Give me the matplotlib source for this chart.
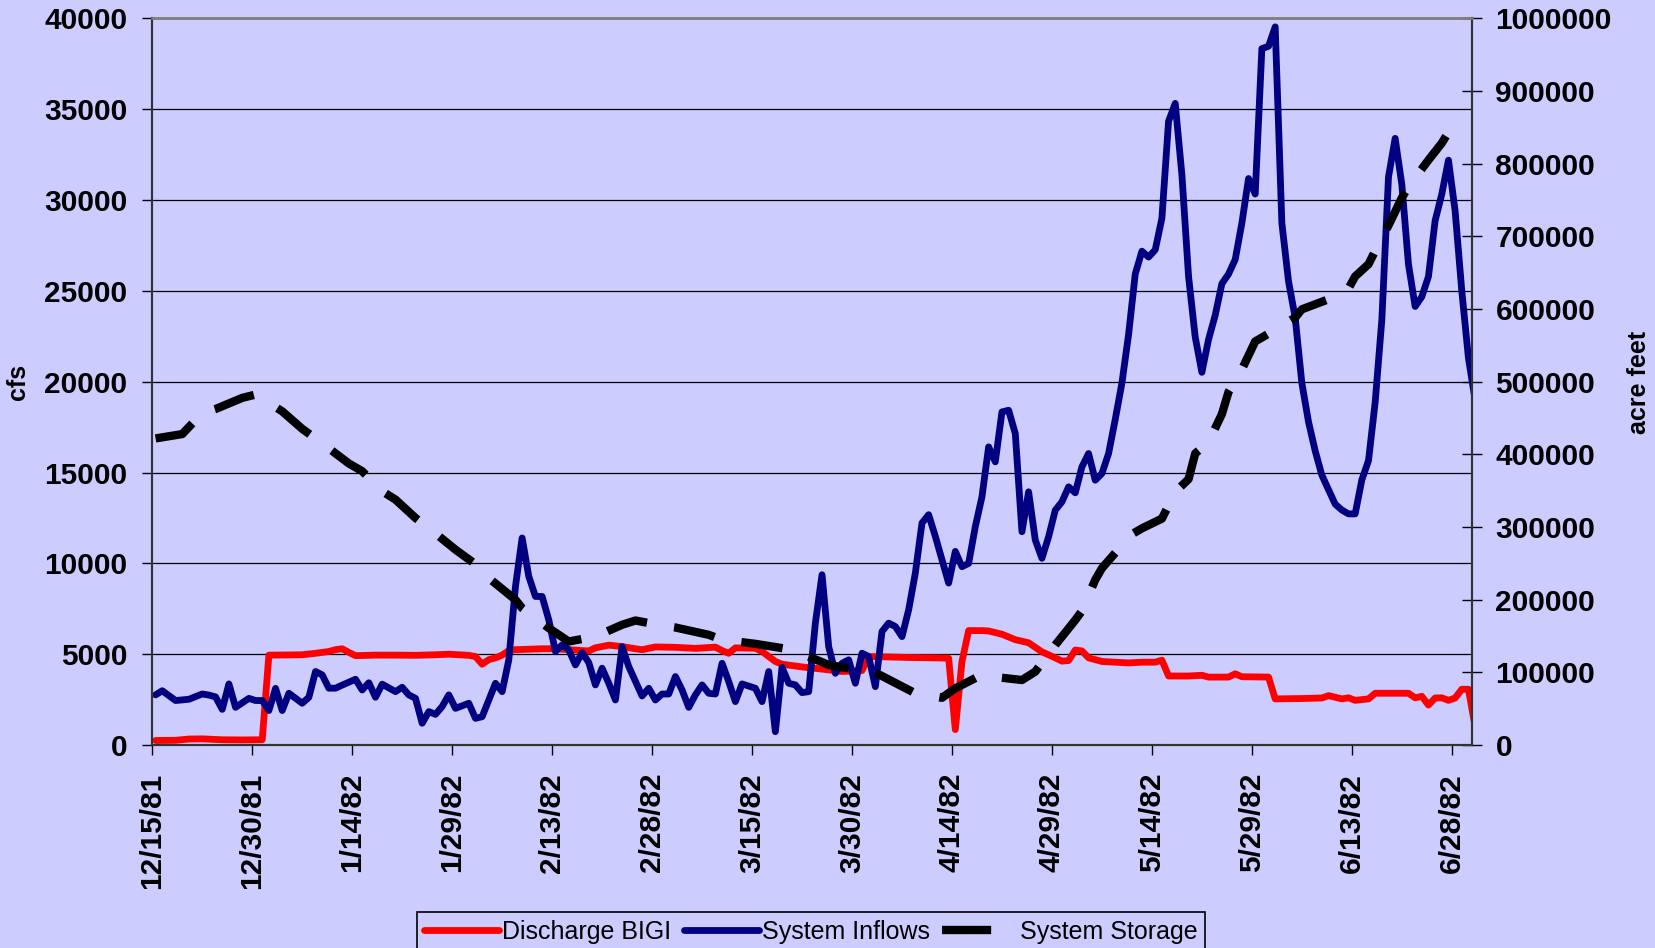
import numpy as np
import matplotlib
matplotlib.use("Agg")
import matplotlib.pyplot as plt
from matplotlib.lines import Line2D

plt.rcParams["font.family"] = ["Liberation Sans", "DejaVu Sans"]

BG = "#CCCCFF"

# day offsets from 12/15/81, daily values
discharge_days = [0, 3, 5, 7, 10, 13, 16, 17, 20, 22, 24, 26, 27, 28, 29, 30, 33, 36, 39, 42,
                  44, 47, 48, 49, 50, 51, 52, 53, 54, 58, 60, 62, 64, 65, 66, 68, 70, 72, 73, 75,
                  78, 81, 84, 85, 86, 87, 90, 91, 93, 94, 97, 100, 103, 106, 107, 110, 113, 117, 119, 120,
                  121, 122, 124, 125, 127, 129, 131, 133, 135, 136, 137, 138, 139, 140, 142, 144, 146, 148, 150, 151,
                  152, 155, 157, 158, 161, 162, 163, 167, 168, 172, 175, 176, 178, 179, 180, 182, 183, 188, 189, 190,
                  191, 192, 193, 194, 195, 196, 197, 198]
discharge_cfs = [250, 260, 330, 340, 290, 280, 290, 4950, 4960, 4970, 5050, 5150, 5250, 5300, 5100, 4920, 4950, 4950, 4940, 4970,
                 5000, 4940, 4870, 4450, 4700, 4800, 4950, 5200, 5250, 5300, 5300, 5250, 5200, 5180, 5350, 5500, 5420, 5300, 5250, 5400,
                 5380, 5320, 5390, 5200, 5050, 5350, 5330, 5150, 4600, 4450, 4300, 4180, 4050, 4100, 4870, 4850, 4820, 4800, 4780, 850,
                 4600, 6300, 6300, 6280, 6100, 5800, 5630, 5130, 4800, 4620, 4650, 5230, 5180, 4800, 4600, 4560, 4520, 4560, 4560, 4670,
                 3800, 3800, 3840, 3740, 3740, 3920, 3760, 3740, 2540, 2560, 2590, 2720, 2540, 2600, 2460, 2540, 2850, 2850, 2600, 2680,
                 2200, 2590, 2600, 2460, 2590, 3070, 3070, 1000]

inflow_days = [0, 1, 3, 5, 7, 8, 9, 10, 11, 12, 14, 15, 16, 17, 18, 19, 20, 22, 23, 24,
               25, 26, 27, 28, 30, 31, 32, 33, 34, 36, 37, 38, 39, 40, 41, 42, 43, 44, 45, 47,
               48, 49, 50, 51, 52, 53, 54, 55, 56, 57, 58, 59, 60, 61, 62, 63, 64, 65, 66, 67,
               68, 69, 70, 71, 73, 74, 75, 76, 77, 78, 79, 80, 81, 82, 83, 84, 85, 86, 87, 88,
               90, 91, 92, 93, 94, 95, 96, 97, 98, 99, 100, 101, 102, 103, 104, 105, 106, 107, 108, 109,
               110, 111, 112, 113, 114, 115, 116, 117, 118, 119, 120, 121, 122, 123, 124, 125, 126, 127, 128, 129,
               130, 131, 132, 133, 134, 135, 136, 137, 138, 139, 140, 141, 142, 143, 144, 145, 146, 147, 148, 149,
               150, 151, 152, 153, 154, 155, 156, 157, 158, 159, 160, 161, 162, 163, 164, 165, 166, 167, 168, 169,
               170, 171, 172, 173, 174, 175, 176, 177, 178, 179, 180, 181, 182, 183, 184, 185, 186, 187, 188, 189,
               190, 191, 192, 193, 194, 195, 196, 197, 198]
inflow_cfs = [2760, 2990, 2450, 2520, 2810, 2750, 2650, 1965, 3365, 2075, 2570, 2450, 2450, 1900, 3120, 1900, 2850, 2300, 2630, 4050,
              3860, 3130, 3130, 3300, 3620, 3030, 3430, 2630, 3350, 2940, 3180, 2760, 2570, 1200, 1840, 1690, 2120, 2760, 2020, 2300,
              1470, 1560, 2480, 3400, 2940, 4690, 8730, 11400, 9280, 8180, 8180, 6890, 5150, 5515, 5240, 4410, 5090, 4540, 3310, 4230,
              3400, 2480, 5420, 4320, 2700, 3125, 2480, 2810, 2810, 3770, 3030, 2075, 2760, 3310, 2850, 2810, 4500, 3490, 2390, 3365,
              3125, 2390, 4045, 735, 4280, 3400, 3310, 2885, 2940, 6710, 9375, 5420, 3950, 4500, 4690, 3400, 5055, 4870, 3215, 6250,
              6710, 6525, 5970, 7445, 9465, 12220, 12680, 11490, 10200, 8915, 10660, 9820, 10000, 12020, 13670, 16415, 15590, 18340, 18430, 17150,
              11745, 13940, 11285, 10280, 11470, 12930, 13390, 14215, 13885, 15315, 16050, 14580, 14950, 16050, 17930, 19930, 22600, 25930, 27190, 26865,
              27265, 29000, 34340, 35325, 31400, 25800, 22465, 20520, 22330, 23665, 25400, 25930, 26730, 28735, 31190, 30335, 38340, 38470, 39540, 28735,
              25530, 23530, 19930, 17795, 16195, 14860, 14060, 13260, 12940, 12725, 12725, 14595, 15660, 18860, 23400, 31270, 33400, 30870, 26465, 24145,
              24680, 25800, 28870, 30335, 32200, 29400, 25000, 21300, 19000]

storage_days = [0, 4, 7, 9, 13, 15, 19, 22, 25, 29, 31, 34, 36, 39, 41, 45, 49, 50, 54, 55,
                59, 62, 66, 70, 72, 76, 78, 83, 85, 90, 95, 97, 101, 103, 108, 114, 118, 120, 124, 126,
                130, 132, 135, 138, 139, 141, 142, 145, 146, 148, 151, 153, 155, 156, 158, 160, 161, 163, 165, 167,
                171, 172, 177, 179, 180, 182, 184, 185, 187, 188, 191, 193, 195]
storage_af = [422000, 428000, 457000, 462500, 477800, 482400, 459300, 435200, 415300, 387500, 376900, 349300, 337800, 312500, 298700, 268900, 242200, 229800, 199900, 188400,
              160900, 142500, 149400, 165500, 171400, 164500, 161800, 151700, 144800, 139300, 131900, 125400, 110300, 107100, 99700, 71200, 65000, 78000, 96800, 93600,
              89500, 101000, 137700, 172000, 184500, 227500, 243300, 275000, 287500, 298200, 311600, 348300, 366000, 401300, 417000, 455500, 486000, 517000, 555500, 566200,
              588400, 599700, 617000, 628400, 645000, 661800, 698500, 715100, 753100, 768500, 805200, 828500, 858600]

tick_labels = ["12/15/81", "12/30/81", "1/14/82", "1/29/82", "2/13/82", "2/28/82", "3/15/82",
               "3/30/82", "4/14/82", "4/29/82", "5/14/82", "5/29/82", "6/13/82", "6/28/82"]

start = np.datetime64("1981-12-15T00:00")
day = np.timedelta64(1, "D")
noon = np.timedelta64(12, "h")


def to_dates(days):
    # daily values sit in the middle of their day
    return start + np.array(days) * day + noon


fig = plt.figure(figsize=(16.55, 9.48), dpi=100, facecolor=BG)
ax = fig.add_axes([0.0920, 0.2141, 0.7973, 0.7664])
ax.set_facecolor(BG)
ax.set_axisbelow(True)

red, = ax.plot(to_dates(discharge_days), discharge_cfs, color="#FF0000", lw=4.9,
               solid_capstyle="round", solid_joinstyle="round")
blue, = ax.plot(to_dates(inflow_days), inflow_cfs, color="#000080", lw=4.9,
                solid_capstyle="round", solid_joinstyle="round")

ax2 = ax.twinx()
ax2.plot(to_dates(storage_days), storage_af, color="black", lw=6,
         dashes=(5.0, 3.3), dash_capstyle="butt")

ax.set_xlim(start, start + 198 * day)
ax.set_ylim(0, 40000)
ax2.set_ylim(0, 1000000)

ax.set_xticks(start + np.arange(len(tick_labels)) * 15 * day, tick_labels)
left_ticks = np.arange(0, 40001, 5000)
ax.set_yticks(left_ticks, [str(v) for v in left_ticks])
right_ticks = np.arange(0, 1000001, 100000)
ax2.set_yticks(right_ticks, [str(v) for v in right_ticks])

ax.yaxis.grid(True, color="black", lw=0.9)
ax.tick_params(axis="y", direction="out", length=7, width=1, pad=11, labelsize=21.5)
ax.tick_params(axis="x", direction="out", length=7, width=1, pad=13, labelsize=21.5,
               labelrotation=90)
ax2.tick_params(axis="y", direction="inout", length=14, width=1, pad=10, labelsize=21.5)
for lbl in ax.get_xticklabels() + ax.get_yticklabels() + ax2.get_yticklabels():
    lbl.set_fontweight("bold")

for a in (ax, ax2):
    for side in ("left", "right", "bottom"):
        a.spines[side].set_color("#333333")
        a.spines[side].set_linewidth(1.5)
    a.spines["top"].set_color("#808080")
    a.spines["top"].set_linewidth(1.8)

fig.text(18 / 1655, 0.597, "cfs", rotation=90, ha="center", va="center",
         fontsize=18, fontweight="bold")
fig.text(1639 / 1655, 0.597, "acre feet", rotation=90, ha="center", va="center",
         fontsize=18, fontweight="bold")

storage_handle = Line2D([], [], color="black", lw=6, dashes=(5.9, 4), dash_capstyle="butt")
leg = fig.legend([red, blue, storage_handle],
                 ["Discharge BIGI", "System Inflows", "System Storage"],
                 loc="upper center", bbox_to_anchor=(0.49, 1 - 912 / 948), ncol=3,
                 fontsize=18, frameon=True, fancybox=False, framealpha=1,
                 facecolor=BG, edgecolor="black", handlelength=3.0,
                 handletextpad=0.12, columnspacing=0.5, borderpad=0.3,
                 borderaxespad=0)
leg.get_frame().set_linewidth(1.2)

fig.savefig("out.png", dpi=100, facecolor=BG)
